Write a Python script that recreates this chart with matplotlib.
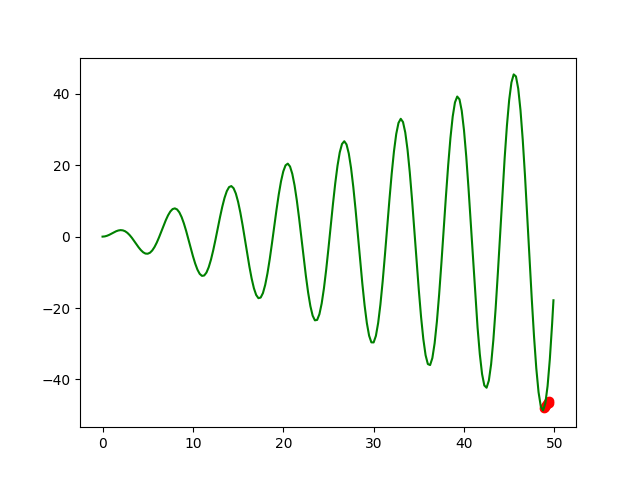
import matplotlib

matplotlib.use("Agg")
import matplotlib.pyplot as plt

# curve samples (x step 0.25, last point at 49.9)
curve_x = [
    0, 0.25, 0.5, 0.75, 1, 1.25, 1.5, 1.75, 2, 2.25,
    2.5, 2.75, 3, 3.25, 3.5, 3.75, 4, 4.25, 4.5, 4.75,
    5, 5.25, 5.5, 5.75, 6, 6.25, 6.5, 6.75, 7, 7.25,
    7.5, 7.75, 8, 8.25, 8.5, 8.75, 9, 9.25, 9.5, 9.75,
    10, 10.25, 10.5, 10.75, 11, 11.25, 11.5, 11.75, 12, 12.25,
    12.5, 12.75, 13, 13.25, 13.5, 13.75, 14, 14.25, 14.5, 14.75,
    15, 15.25, 15.5, 15.75, 16, 16.25, 16.5, 16.75, 17, 17.25,
    17.5, 17.75, 18, 18.25, 18.5, 18.75, 19, 19.25, 19.5, 19.75,
    20, 20.25, 20.5, 20.75, 21, 21.25, 21.5, 21.75, 22, 22.25,
    22.5, 22.75, 23, 23.25, 23.5, 23.75, 24, 24.25, 24.5, 24.75,
    25, 25.25, 25.5, 25.75, 26, 26.25, 26.5, 26.75, 27, 27.25,
    27.5, 27.75, 28, 28.25, 28.5, 28.75, 29, 29.25, 29.5, 29.75,
    30, 30.25, 30.5, 30.75, 31, 31.25, 31.5, 31.75, 32, 32.25,
    32.5, 32.75, 33, 33.25, 33.5, 33.75, 34, 34.25, 34.5, 34.75,
    35, 35.25, 35.5, 35.75, 36, 36.25, 36.5, 36.75, 37, 37.25,
    37.5, 37.75, 38, 38.25, 38.5, 38.75, 39, 39.25, 39.5, 39.75,
    40, 40.25, 40.5, 40.75, 41, 41.25, 41.5, 41.75, 42, 42.25,
    42.5, 42.75, 43, 43.25, 43.5, 43.75, 44, 44.25, 44.5, 44.75,
    45, 45.25, 45.5, 45.75, 46, 46.25, 46.5, 46.75, 47, 47.25,
    47.5, 47.75, 48, 48.25, 48.5, 48.75, 49, 49.25, 49.5, 49.75,
    49.9,
]
curve_y = [
    0, 0.06, 0.24, 0.51, 0.84, 1.19, 1.5, 1.72, 1.82, 1.75,
    1.5, 1.05, 0.42, -0.35, -1.23, -2.14, -3.03, -3.8, -4.4, -4.75,
    -4.79, -4.51, -3.88, -2.92, -1.68, -0.21, 1.4, 3.04, 4.6, 5.97,
    7.03, 7.71, 7.91, 7.61, 6.79, 5.47, 3.71, 1.61, -0.71, -3.12,
    -5.44, -7.53, -9.24, -10.43, -11, -10.89, -10.07, -8.56, -6.44, -3.81,
    -0.83, 2.33, 5.46, 8.37, 10.85, 12.73, 13.87, 14.16, 13.56, 12.07,
    9.75, 6.74, 3.2, -0.66, -4.61, -8.38, -11.74, -14.46, -16.34, -17.24,
    -17.07, -15.82, -13.52, -10.3, -6.34, -1.86, 2.85, 7.5, 11.81, 15.48,
    18.26, 19.96, 20.44, 19.63, 17.57, 14.35, 10.14, 5.19, -0.19, -5.7,
    -10.96, -15.65, -19.46, -22.13, -23.45, -23.33, -21.73, -18.73, -14.49, -9.24,
    -3.31, 2.95, 9.16, 14.9, 19.83, 23.6, 25.95, 26.72, 25.82, 23.28,
    19.23, 13.89, 7.59, 0.69, -6.38, -13.17, -19.25, -24.22, -27.76, -29.62,
    -29.64, -27.8, -24.19, -19, -12.53, -5.16, 2.65, 10.41, 17.65, 23.89,
    28.73, 31.84, 33, 32.1, 29.18, 24.39, 17.99, 10.37, 1.98, -6.65,
    -14.99, -22.51, -28.72, -33.22, -35.7, -35.98, -34.01, -29.87, -23.81, -16.17,
    -7.42, 1.92, 11.26, 20.02, 27.64, 33.63, 37.59, 39.24, 38.46, 35.26,
    29.8, 22.42, 13.53, 3.69, -6.5, -16.42, -25.42, -32.94, -38.49, -41.7,
    -42.33, -40.32, -35.77, -28.92, -20.18, -10.07, 0.78, 11.7, 22.02, 31.08,
    38.29, 43.19, 45.44, 44.87, 41.48, 35.47, 27.17, 17.07, 5.81, -5.94,
    -17.45, -27.98, -36.88, -43.56, -47.58, -48.68, -46.73, -41.85, -34.3, -24.52,
    -17.83,
]

# red points clustered around the minimum
found_x = [48.86, 48.97, 49.08, 49.19, 49.30, 49.41, 49.41]
found_y = [-48.14, -47.86, -47.30, -47.02, -46.46, -46.18, -46.74]

fig, ax = plt.subplots(figsize=(6.4, 4.8), dpi=100)
ax.plot(found_x, found_y, "ro")
ax.plot(curve_x, curve_y, "g-")

fig.savefig("out.png")
